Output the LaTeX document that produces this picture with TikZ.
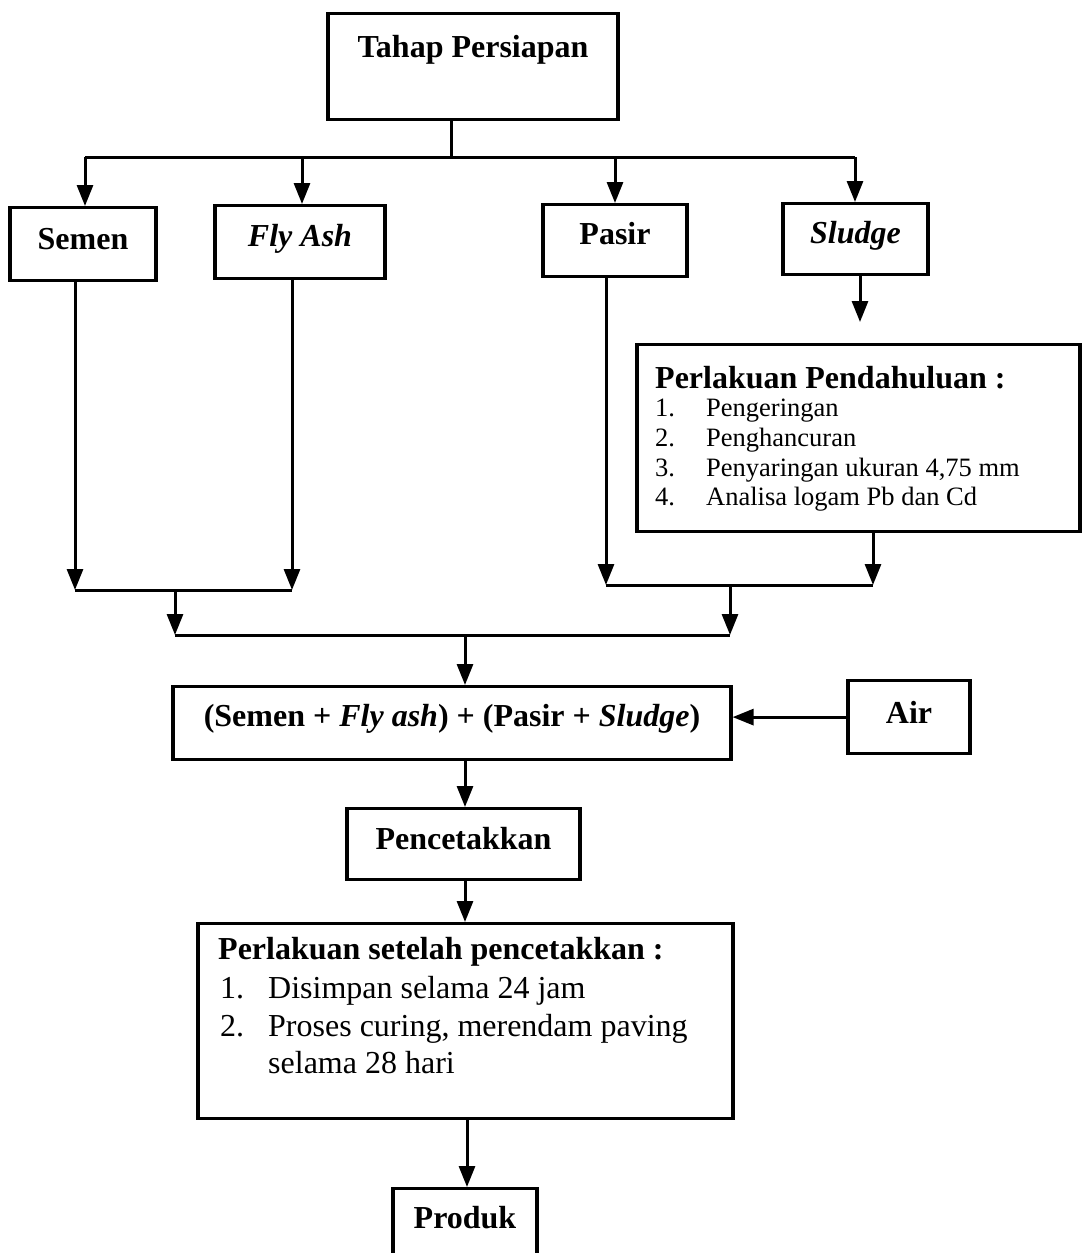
\documentclass[tikz,border=0pt]{standalone}
\usepackage{fontspec}
\setmainfont{Liberation Serif}
\usetikzlibrary{arrows.meta}
\begin{document}
\begin{tikzpicture}[x=1pt,y=-1pt,
  box/.style={draw, line width=3.2pt, inner sep=0pt, anchor=north, font=\fontsize{32}{38}\selectfont\bfseries},
  txt/.style={inner sep=0pt, anchor=base west, font=\fontsize{32}{38}\selectfont},
  smalltxt/.style={inner sep=0pt, anchor=base west, font=\fontsize{26.5}{30}\selectfont},
  conn/.style={line width=3pt},
  arr/.style={conn, -{Triangle[length=21pt,width=16pt]}}]
\useasboundingbox (0,0) rectangle (1083,1253);

% boxes
\node[box, minimum width=290pt, text height=44pt, text depth=62pt] (tahap) at (473,12) {Tahap Persiapan};
\node[box, minimum width=146pt, text height=42pt, text depth=31pt] (semen) at (83,206) {Semen};
\node[box, minimum width=170pt, text height=41pt, text depth=32pt] (flyash) at (300,204) {\textit{Fly Ash}};
\node[box, minimum width=144pt, text height=40pt, text depth=32pt] (pasir) at (615,203) {Pasir};
\node[box, minimum width=145pt, text height=40pt, text depth=31pt] (sludge) at (855.5,202) {\textit{Sludge}};
\node[box, minimum width=443pt, minimum height=187pt] (pp) at (858.5,343) {};
\node[box, minimum width=558pt, text height=40pt, text depth=33pt] (main) at (452,685) {(Semen + \textit{Fly ash}) + (Pasir + \textit{Sludge})};
\node[box, minimum width=122pt, text height=43pt, text depth=30pt] (air) at (909,679) {Air};
\node[box, minimum width=233pt, text height=41pt, text depth=30pt] (pencetak) at (463.5,807) {Pencetakkan};
\node[box, minimum width=535pt, minimum height=195pt] (ps) at (465.5,922) {};
\node[box, minimum width=144pt, text height=40pt, text depth=41pt] (produk) at (465,1187) {Produk};

% texts in Perlakuan Pendahuluan
\node[txt, font=\fontsize{32}{38}\selectfont\bfseries] (ppt) at (655,388) {Perlakuan Pendahuluan :};
\node[smalltxt] (pp1n) at (655,416) {1.};
\node[smalltxt] (pp1) at (706,416) {Pengeringan};
\node[smalltxt] (pp2n) at (655,446) {2.};
\node[smalltxt] (pp2) at (706,446) {Penghancuran};
\node[smalltxt] (pp3n) at (655,476) {3.};
\node[smalltxt] (pp3) at (706,476) {Penyaringan ukuran 4,75 mm};
\node[smalltxt] (pp4n) at (655,505) {4.};
\node[smalltxt] (pp4) at (706,505) {Analisa logam Pb dan Cd};

% texts in Perlakuan setelah pencetakkan
\node[txt, font=\fontsize{32}{38}\selectfont\bfseries] (pst) at (218,959) {Perlakuan setelah pencetakkan :};
\node[txt] (ps1n) at (220,998) {1.};
\node[txt] (ps1) at (268,998) {Disimpan selama 24 jam};
\node[txt] (ps2n) at (220,1036) {2.};
\node[txt] (ps2) at (268,1036) {Proses curing, merendam paving};
\node[txt] (ps3) at (268,1073) {selama 28 hari};

% junction coordinates
\coordinate (d) at (451,157);
\coordinate (dl) at (85,157);
\coordinate (d2) at (302,157);
\coordinate (d3) at (615,157);
\coordinate (dr) at (855,157);
\coordinate (s1) at (860,322);
\coordinate (ml1) at (75,590);
\coordinate (ml2) at (292,590);
\coordinate (ml) at (175,590);
\coordinate (mr1) at (606,585);
\coordinate (mr2) at (873,585);
\coordinate (mr) at (730,585);
\coordinate (bl) at (175,635);
\coordinate (br) at (730,635);
\coordinate (bc) at (465,635);
\coordinate (v2) at (467,1150);

% connectors
\draw[conn] (d |- tahap.south) -- (d);
\draw[conn] (dl) -- (dr);
\draw[arr] (dl) -- (dl |- semen.north);
\draw[arr] (d2) -- (d2 |- flyash.north);
\draw[arr] (d3) -- (d3 |- pasir.north);
\draw[arr] (dr) -- (dr |- sludge.north);
\draw[arr] (s1 |- sludge.south) -- (s1);

\draw[arr] (ml1 |- semen.south) -- (ml1);
\draw[arr] (ml2 |- flyash.south) -- (ml2);
\draw[conn] (ml1) -- (ml2);
\draw[arr] (mr1 |- pasir.south) -- (mr1);
\draw[arr] (mr2 |- pp.south) -- (mr2);
\draw[conn] (mr1) -- (mr2);
\draw[arr] (ml) -- (bl);
\draw[arr] (mr) -- (br);
\draw[conn] (bl) -- (br);
\draw[arr] (bc) -- (bc |- main.north);
\draw[arr] (air.west) -- (air.west -| main.east);
\draw[arr] (bc |- main.south) -- (bc |- pencetak.north);
\draw[arr] (bc |- pencetak.south) -- (bc |- ps.north);
\draw[arr] (v2 |- ps.south) -- (v2 |- produk.north);
\end{tikzpicture}
\end{document}
